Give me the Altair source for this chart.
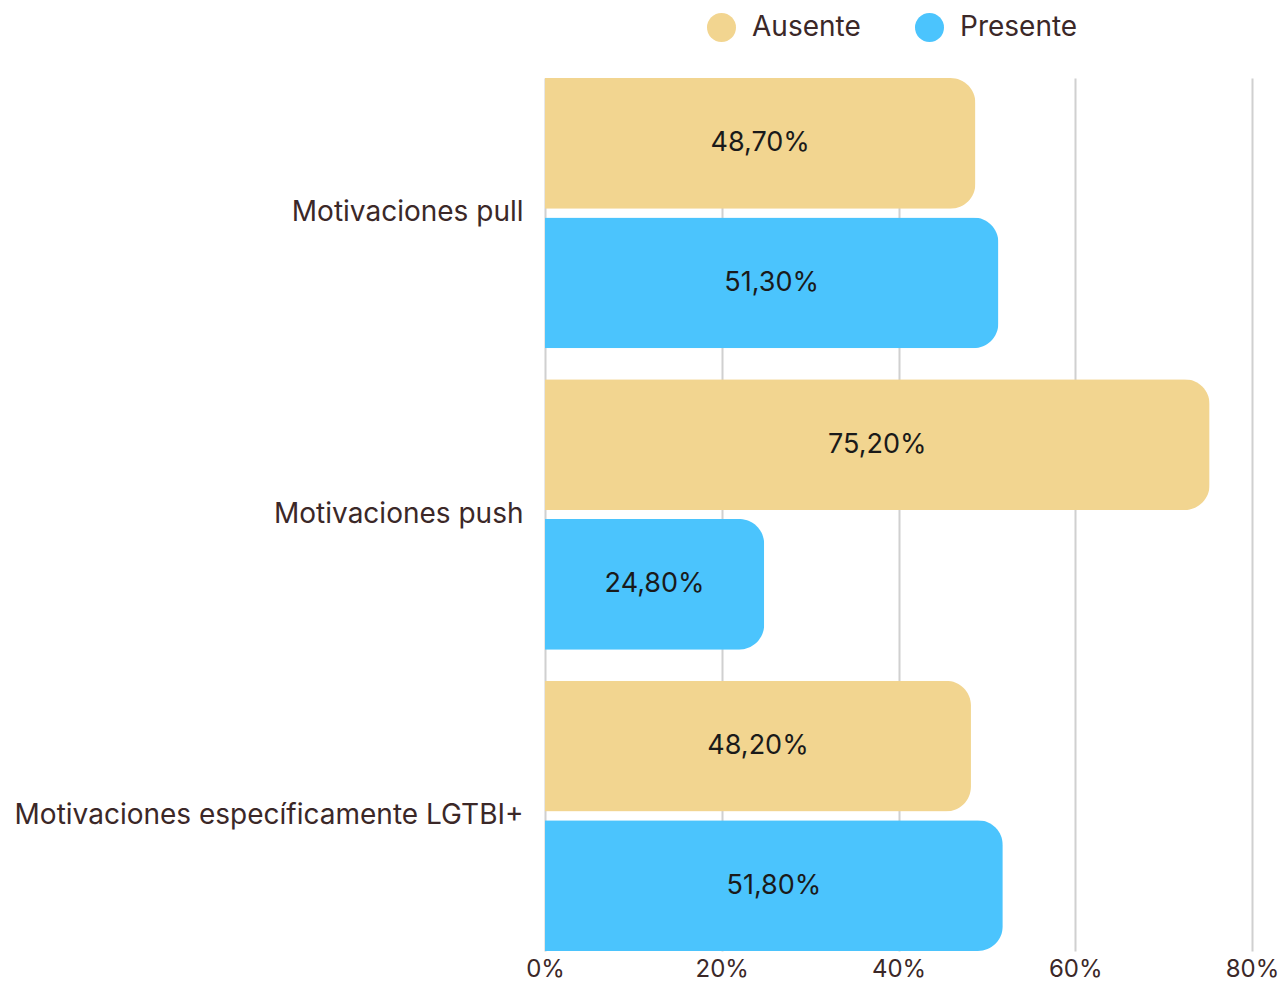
import altair as alt
import pandas as pd

categories = ["Motivaciones pull", "Motivaciones push", "Motivaciones específicamente LGTBI+"]
groups = ["Ausente", "Presente"]
ausente = [48.7, 75.2, 48.2]
presente = [51.3, 24.8, 51.8]
colors = ["#F2D590", "#4BC4FD"]
x_ticks = [0, 20, 40, 60, 80]

rows = []
for c, a, p in zip(categories, ausente, presente):
    rows.append({"cat": c, "grp": "Ausente", "value": a})
    rows.append({"cat": c, "grp": "Presente", "value": p})
df = pd.DataFrame(rows)

FONT = "Inter"
TXT = "#3B2828"

y_enc = alt.Y("cat:N", sort=categories, title=None,
              scale=alt.Scale(paddingInner=0.103, paddingOuter=0),
              axis=alt.Axis(ticks=False, domain=False, labelPadding=22, labelFontSize=28,
                            labelColor=TXT, labelFont=FONT, labelLimit=600))
yoff = alt.YOffset("grp:N", sort=groups, scale=alt.Scale(paddingInner=0.064, paddingOuter=0))

base = alt.Chart(df)

bars = base.mark_bar(cornerRadiusEnd=25).encode(
    y=y_enc,
    yOffset=yoff,
    x=alt.X("value:Q", title=None,
            scale=alt.Scale(domain=[0, 80], nice=False),
            axis=alt.Axis(values=x_ticks, labelExpr="datum.value + '%'", ticks=False, domain=False,
                          grid=True, gridColor="#D0D0D0", gridWidth=2, labelFontSize=24,
                          labelColor=TXT, labelFont=FONT, labelPadding=6, labelFlush=False)),
    color=alt.Color("grp:N", sort=groups, title=None,
                    scale=alt.Scale(domain=groups, range=colors),
                    legend=alt.Legend(orient="none", legendX=162, legendY=-65, direction="horizontal",
                                      symbolType="circle", symbolSize=841, symbolStrokeWidth=0,
                                      labelFontSize=28, labelFont=FONT, labelColor=TXT,
                                      labelOffset=16, columnPadding=54, padding=0)),
)

labels = base.transform_calculate(
    mid="datum.value / 2",
    lab="replace(format(datum.value, '.2f'), '.', ',') + '%'"
).mark_text(fontSize=27, font=FONT, color="#1A1A1A", align="center", baseline="middle").encode(
    y=alt.Y("cat:N", sort=categories),
    yOffset=yoff,
    x=alt.X("mid:Q"),
    text="lab:N",
)

chart = alt.layer(bars, labels).properties(
    width=707, height=873,
    background="white",
    autosize=alt.AutoSizeParams(type="none"),
    padding={"left": 537, "top": 70, "right": 27, "bottom": 35},
).configure_view(stroke=None)

chart.save("out.html", embed_options={"renderer": "svg", "actions": False})
